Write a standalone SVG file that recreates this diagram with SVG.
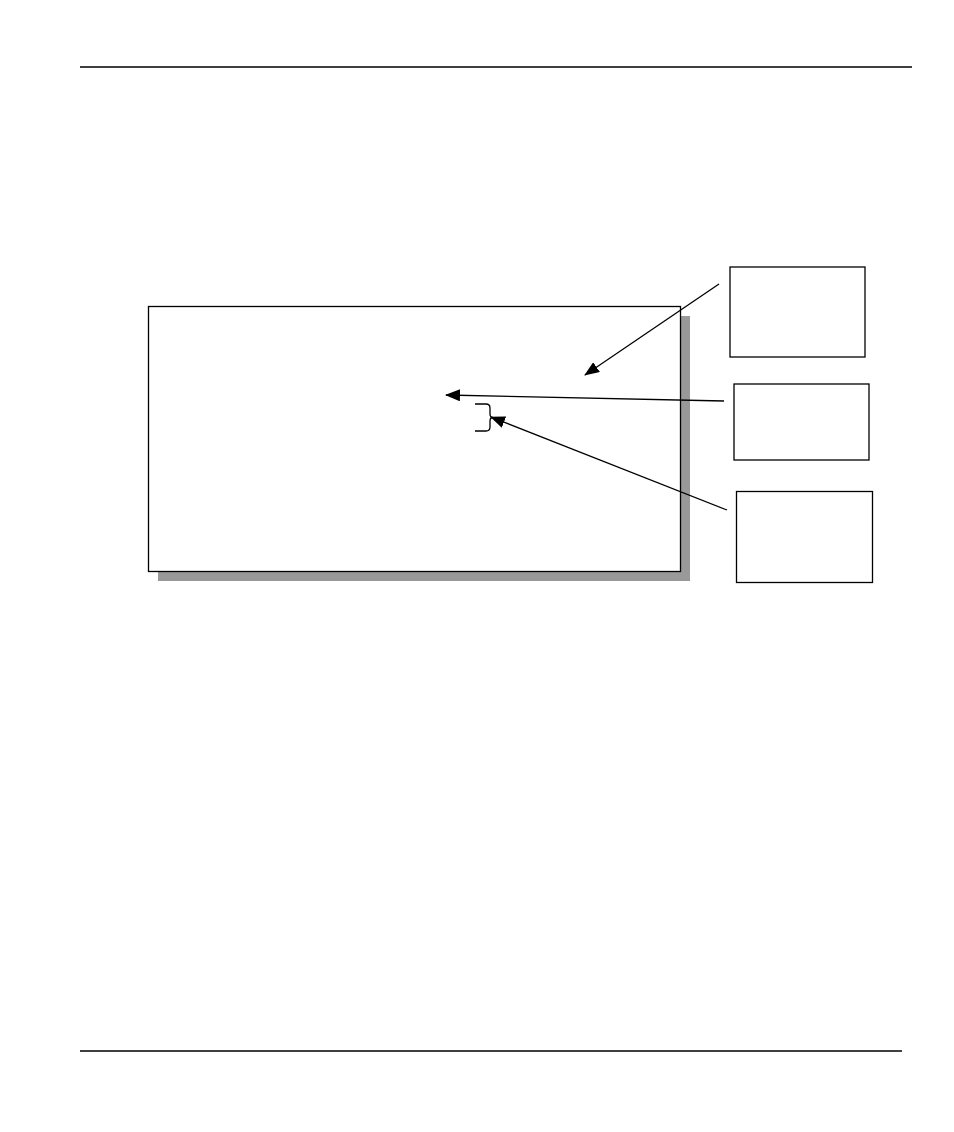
<svg xmlns="http://www.w3.org/2000/svg" width="954" height="1132" viewBox="0 0 954 1132">
  <style>
    .rule { stroke: #000; stroke-width: 1.3; fill: none; }
    .box { fill: #fff; stroke: #000; stroke-width: 1.3; }
    .conn { stroke: #000; stroke-width: 1.3; fill: none; }
  </style>
  <defs>
    <marker id="arrow" markerWidth="15" markerHeight="12" refX="14" refY="6" orient="auto" markerUnits="userSpaceOnUse">
      <path d="M0,0 L15,6 L0,12 Z" fill="#000"/>
    </marker>
  </defs>
  <rect width="954" height="1132" fill="#fff"/>
  <g id="header">
    <line class="rule" x1="80" y1="67" x2="912" y2="67"/>
  </g>
  <g id="footer">
    <line class="rule" x1="80" y1="1051" x2="902" y2="1051"/>
  </g>
  <g id="main-panel">
    <rect x="158" y="316" width="532" height="265" fill="#999"/>
    <rect class="box" x="148.5" y="306.5" width="532" height="265"/>
  </g>
  <g id="brace">
    <path class="conn" d="M475,404 L486,404 Q490,404 490,408 L490,414 Q490,417.5 493,417.5 Q490,417.5 490,421 L490,427 Q490,431 486,431 L475,431"/>
  </g>
  <g id="callout-1">
    <rect class="box" x="730" y="267" width="135" height="90"/>
  </g>
  <g id="callout-2">
    <rect class="box" x="734" y="384" width="135" height="76"/>
  </g>
  <g id="callout-3">
    <rect class="box" x="736.5" y="491.5" width="136" height="91"/>
  </g>
  <g id="connectors">
    <line class="conn" x1="719" y1="284" x2="585" y2="375" marker-end="url(#arrow)"/>
    <line class="conn" x1="724" y1="401" x2="446" y2="395" marker-end="url(#arrow)"/>
    <line class="conn" x1="727" y1="510" x2="491" y2="417" marker-end="url(#arrow)"/>
  </g>
</svg>
